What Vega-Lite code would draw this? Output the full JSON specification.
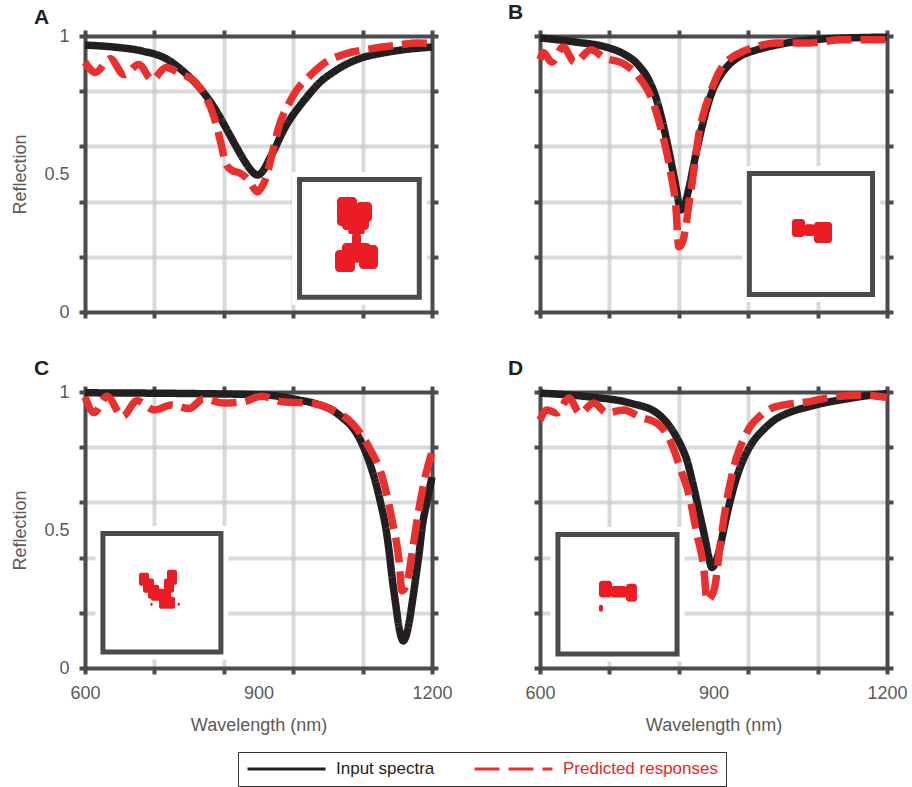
{
  "$schema": "https://vega.github.io/schema/vega-lite/v6.json",
  "padding": {"left": 11, "top": 2, "right": 5, "bottom": 0},
  "bounds": "flush",
  "columns": 2,
  "spacing": {"row": 80, "column": 108},
  "datasets": {
    "curves": [
      {"p":"A","s":"Input spectra","w":600,"r":0.967},{"p":"A","s":"Input spectra","w":650,"r":0.960},{"p":"A","s":"Input spectra","w":700,"r":0.945},{"p":"A","s":"Input spectra","w":740,"r":0.918},{"p":"A","s":"Input spectra","w":770,"r":0.872},{"p":"A","s":"Input spectra","w":800,"r":0.808},{"p":"A","s":"Input spectra","w":826,"r":0.732},{"p":"A","s":"Input spectra","w":845,"r":0.662},{"p":"A","s":"Input spectra","w":862,"r":0.597},{"p":"A","s":"Input spectra","w":878,"r":0.540},{"p":"A","s":"Input spectra","w":890,"r":0.507},{"p":"A","s":"Input spectra","w":898,"r":0.496},{"p":"A","s":"Input spectra","w":908,"r":0.512},{"p":"A","s":"Input spectra","w":918,"r":0.551},{"p":"A","s":"Input spectra","w":930,"r":0.600},{"p":"A","s":"Input spectra","w":941,"r":0.649},{"p":"A","s":"Input spectra","w":955,"r":0.700},{"p":"A","s":"Input spectra","w":970,"r":0.743},{"p":"A","s":"Input spectra","w":990,"r":0.795},{"p":"A","s":"Input spectra","w":1005,"r":0.830},{"p":"A","s":"Input spectra","w":1030,"r":0.870},{"p":"A","s":"Input spectra","w":1056,"r":0.902},{"p":"A","s":"Input spectra","w":1085,"r":0.925},{"p":"A","s":"Input spectra","w":1114,"r":0.938},{"p":"A","s":"Input spectra","w":1150,"r":0.950},{"p":"A","s":"Input spectra","w":1200,"r":0.960},
      {"p":"A","s":"Predicted responses","w":600,"r":0.905},{"p":"A","s":"Predicted responses","w":618,"r":0.868},{"p":"A","s":"Predicted responses","w":644,"r":0.918},{"p":"A","s":"Predicted responses","w":667,"r":0.860},{"p":"A","s":"Predicted responses","w":693,"r":0.897},{"p":"A","s":"Predicted responses","w":716,"r":0.842},{"p":"A","s":"Predicted responses","w":740,"r":0.886},{"p":"A","s":"Predicted responses","w":763,"r":0.866},{"p":"A","s":"Predicted responses","w":792,"r":0.830},{"p":"A","s":"Predicted responses","w":809,"r":0.779},{"p":"A","s":"Predicted responses","w":823,"r":0.707},{"p":"A","s":"Predicted responses","w":835,"r":0.612},{"p":"A","s":"Predicted responses","w":844,"r":0.535},{"p":"A","s":"Predicted responses","w":855,"r":0.512},{"p":"A","s":"Predicted responses","w":866,"r":0.505},{"p":"A","s":"Predicted responses","w":876,"r":0.492},{"p":"A","s":"Predicted responses","w":884,"r":0.474},{"p":"A","s":"Predicted responses","w":892,"r":0.448},{"p":"A","s":"Predicted responses","w":898,"r":0.435},{"p":"A","s":"Predicted responses","w":905,"r":0.450},{"p":"A","s":"Predicted responses","w":913,"r":0.487},{"p":"A","s":"Predicted responses","w":924,"r":0.576},{"p":"A","s":"Predicted responses","w":935,"r":0.670},{"p":"A","s":"Predicted responses","w":953,"r":0.757},{"p":"A","s":"Predicted responses","w":970,"r":0.815},{"p":"A","s":"Predicted responses","w":982,"r":0.841},{"p":"A","s":"Predicted responses","w":1000,"r":0.878},{"p":"A","s":"Predicted responses","w":1017,"r":0.906},{"p":"A","s":"Predicted responses","w":1040,"r":0.928},{"p":"A","s":"Predicted responses","w":1062,"r":0.942},{"p":"A","s":"Predicted responses","w":1090,"r":0.952},{"p":"A","s":"Predicted responses","w":1114,"r":0.960},{"p":"A","s":"Predicted responses","w":1145,"r":0.968},{"p":"A","s":"Predicted responses","w":1172,"r":0.975},{"p":"A","s":"Predicted responses","w":1200,"r":0.972},
      {"p":"B","s":"Input spectra","w":600,"r":0.993},{"p":"B","s":"Input spectra","w":662,"r":0.978},{"p":"B","s":"Input spectra","w":719,"r":0.957},{"p":"B","s":"Input spectra","w":745,"r":0.935},{"p":"B","s":"Input spectra","w":770,"r":0.895},{"p":"B","s":"Input spectra","w":788,"r":0.841},{"p":"B","s":"Input spectra","w":800,"r":0.780},{"p":"B","s":"Input spectra","w":810,"r":0.705},{"p":"B","s":"Input spectra","w":820,"r":0.612},{"p":"B","s":"Input spectra","w":828,"r":0.530},{"p":"B","s":"Input spectra","w":835,"r":0.453},{"p":"B","s":"Input spectra","w":840,"r":0.395},{"p":"B","s":"Input spectra","w":844,"r":0.370},{"p":"B","s":"Input spectra","w":849,"r":0.385},{"p":"B","s":"Input spectra","w":858,"r":0.453},{"p":"B","s":"Input spectra","w":865,"r":0.525},{"p":"B","s":"Input spectra","w":871,"r":0.587},{"p":"B","s":"Input spectra","w":880,"r":0.670},{"p":"B","s":"Input spectra","w":889,"r":0.743},{"p":"B","s":"Input spectra","w":898,"r":0.800},{"p":"B","s":"Input spectra","w":910,"r":0.851},{"p":"B","s":"Input spectra","w":925,"r":0.892},{"p":"B","s":"Input spectra","w":944,"r":0.924},{"p":"B","s":"Input spectra","w":975,"r":0.950},{"p":"B","s":"Input spectra","w":1008,"r":0.967},{"p":"B","s":"Input spectra","w":1050,"r":0.982},{"p":"B","s":"Input spectra","w":1095,"r":0.990},{"p":"B","s":"Input spectra","w":1150,"r":0.994},{"p":"B","s":"Input spectra","w":1200,"r":0.996},
      {"p":"B","s":"Predicted responses","w":600,"r":0.915},{"p":"B","s":"Predicted responses","w":606,"r":0.940},{"p":"B","s":"Predicted responses","w":620,"r":0.905},{"p":"B","s":"Predicted responses","w":640,"r":0.960},{"p":"B","s":"Predicted responses","w":660,"r":0.905},{"p":"B","s":"Predicted responses","w":688,"r":0.950},{"p":"B","s":"Predicted responses","w":712,"r":0.920},{"p":"B","s":"Predicted responses","w":742,"r":0.902},{"p":"B","s":"Predicted responses","w":771,"r":0.851},{"p":"B","s":"Predicted responses","w":794,"r":0.768},{"p":"B","s":"Predicted responses","w":811,"r":0.649},{"p":"B","s":"Predicted responses","w":826,"r":0.504},{"p":"B","s":"Predicted responses","w":835,"r":0.380},{"p":"B","s":"Predicted responses","w":840,"r":0.236},{"p":"B","s":"Predicted responses","w":846,"r":0.250},{"p":"B","s":"Predicted responses","w":852,"r":0.308},{"p":"B","s":"Predicted responses","w":858,"r":0.400},{"p":"B","s":"Predicted responses","w":863,"r":0.467},{"p":"B","s":"Predicted responses","w":869,"r":0.560},{"p":"B","s":"Predicted responses","w":875,"r":0.649},{"p":"B","s":"Predicted responses","w":883,"r":0.720},{"p":"B","s":"Predicted responses","w":892,"r":0.779},{"p":"B","s":"Predicted responses","w":903,"r":0.840},{"p":"B","s":"Predicted responses","w":915,"r":0.888},{"p":"B","s":"Predicted responses","w":930,"r":0.920},{"p":"B","s":"Predicted responses","w":949,"r":0.942},{"p":"B","s":"Predicted responses","w":975,"r":0.962},{"p":"B","s":"Predicted responses","w":1008,"r":0.975},{"p":"B","s":"Predicted responses","w":1065,"r":0.975},{"p":"B","s":"Predicted responses","w":1122,"r":0.986},{"p":"B","s":"Predicted responses","w":1200,"r":0.986},
      {"p":"C","s":"Input spectra","w":600,"r":0.997},{"p":"C","s":"Input spectra","w":700,"r":0.996},{"p":"C","s":"Input spectra","w":797,"r":0.994},{"p":"C","s":"Input spectra","w":913,"r":0.989},{"p":"C","s":"Input spectra","w":970,"r":0.971},{"p":"C","s":"Input spectra","w":1000,"r":0.957},{"p":"C","s":"Input spectra","w":1027,"r":0.935},{"p":"C","s":"Input spectra","w":1046,"r":0.905},{"p":"C","s":"Input spectra","w":1062,"r":0.873},{"p":"C","s":"Input spectra","w":1075,"r":0.830},{"p":"C","s":"Input spectra","w":1086,"r":0.778},{"p":"C","s":"Input spectra","w":1095,"r":0.725},{"p":"C","s":"Input spectra","w":1103,"r":0.669},{"p":"C","s":"Input spectra","w":1112,"r":0.590},{"p":"C","s":"Input spectra","w":1120,"r":0.509},{"p":"C","s":"Input spectra","w":1126,"r":0.420},{"p":"C","s":"Input spectra","w":1131,"r":0.328},{"p":"C","s":"Input spectra","w":1137,"r":0.235},{"p":"C","s":"Input spectra","w":1143,"r":0.147},{"p":"C","s":"Input spectra","w":1147,"r":0.110},{"p":"C","s":"Input spectra","w":1150,"r":0.098},{"p":"C","s":"Input spectra","w":1155,"r":0.115},{"p":"C","s":"Input spectra","w":1160,"r":0.160},{"p":"C","s":"Input spectra","w":1166,"r":0.240},{"p":"C","s":"Input spectra","w":1172,"r":0.328},{"p":"C","s":"Input spectra","w":1178,"r":0.420},{"p":"C","s":"Input spectra","w":1183,"r":0.510},{"p":"C","s":"Input spectra","w":1191,"r":0.600},{"p":"C","s":"Input spectra","w":1200,"r":0.692},
      {"p":"C","s":"Predicted responses","w":600,"r":0.982},{"p":"C","s":"Predicted responses","w":616,"r":0.925},{"p":"C","s":"Predicted responses","w":638,"r":0.985},{"p":"C","s":"Predicted responses","w":665,"r":0.912},{"p":"C","s":"Predicted responses","w":690,"r":0.968},{"p":"C","s":"Predicted responses","w":720,"r":0.935},{"p":"C","s":"Predicted responses","w":750,"r":0.953},{"p":"C","s":"Predicted responses","w":780,"r":0.940},{"p":"C","s":"Predicted responses","w":805,"r":0.975},{"p":"C","s":"Predicted responses","w":840,"r":0.960},{"p":"C","s":"Predicted responses","w":875,"r":0.965},{"p":"C","s":"Predicted responses","w":905,"r":0.985},{"p":"C","s":"Predicted responses","w":940,"r":0.965},{"p":"C","s":"Predicted responses","w":995,"r":0.958},{"p":"C","s":"Predicted responses","w":1027,"r":0.935},{"p":"C","s":"Predicted responses","w":1062,"r":0.887},{"p":"C","s":"Predicted responses","w":1091,"r":0.800},{"p":"C","s":"Predicted responses","w":1114,"r":0.692},{"p":"C","s":"Predicted responses","w":1131,"r":0.535},{"p":"C","s":"Predicted responses","w":1143,"r":0.389},{"p":"C","s":"Predicted responses","w":1148,"r":0.280},{"p":"C","s":"Predicted responses","w":1153,"r":0.290},{"p":"C","s":"Predicted responses","w":1160,"r":0.342},{"p":"C","s":"Predicted responses","w":1168,"r":0.450},{"p":"C","s":"Predicted responses","w":1177,"r":0.571},{"p":"C","s":"Predicted responses","w":1191,"r":0.716},{"p":"C","s":"Predicted responses","w":1200,"r":0.782},
      {"p":"D","s":"Input spectra","w":600,"r":0.996},{"p":"D","s":"Input spectra","w":687,"r":0.982},{"p":"D","s":"Input spectra","w":756,"r":0.960},{"p":"D","s":"Input spectra","w":802,"r":0.924},{"p":"D","s":"Input spectra","w":832,"r":0.851},{"p":"D","s":"Input spectra","w":845,"r":0.800},{"p":"D","s":"Input spectra","w":854,"r":0.753},{"p":"D","s":"Input spectra","w":863,"r":0.680},{"p":"D","s":"Input spectra","w":871,"r":0.607},{"p":"D","s":"Input spectra","w":878,"r":0.540},{"p":"D","s":"Input spectra","w":885,"r":0.473},{"p":"D","s":"Input spectra","w":891,"r":0.410},{"p":"D","s":"Input spectra","w":897,"r":0.364},{"p":"D","s":"Input spectra","w":904,"r":0.385},{"p":"D","s":"Input spectra","w":911,"r":0.436},{"p":"D","s":"Input spectra","w":920,"r":0.525},{"p":"D","s":"Input spectra","w":929,"r":0.607},{"p":"D","s":"Input spectra","w":937,"r":0.670},{"p":"D","s":"Input spectra","w":946,"r":0.727},{"p":"D","s":"Input spectra","w":957,"r":0.780},{"p":"D","s":"Input spectra","w":970,"r":0.825},{"p":"D","s":"Input spectra","w":987,"r":0.865},{"p":"D","s":"Input spectra","w":1005,"r":0.898},{"p":"D","s":"Input spectra","w":1030,"r":0.925},{"p":"D","s":"Input spectra","w":1062,"r":0.945},{"p":"D","s":"Input spectra","w":1090,"r":0.960},{"p":"D","s":"Input spectra","w":1119,"r":0.971},{"p":"D","s":"Input spectra","w":1160,"r":0.985},{"p":"D","s":"Input spectra","w":1200,"r":0.994},
      {"p":"D","s":"Predicted responses","w":600,"r":0.898},{"p":"D","s":"Predicted responses","w":612,"r":0.935},{"p":"D","s":"Predicted responses","w":629,"r":0.924},{"p":"D","s":"Predicted responses","w":650,"r":0.978},{"p":"D","s":"Predicted responses","w":669,"r":0.924},{"p":"D","s":"Predicted responses","w":693,"r":0.960},{"p":"D","s":"Predicted responses","w":716,"r":0.924},{"p":"D","s":"Predicted responses","w":745,"r":0.935},{"p":"D","s":"Predicted responses","w":773,"r":0.909},{"p":"D","s":"Predicted responses","w":802,"r":0.887},{"p":"D","s":"Predicted responses","w":825,"r":0.825},{"p":"D","s":"Predicted responses","w":842,"r":0.727},{"p":"D","s":"Predicted responses","w":860,"r":0.607},{"p":"D","s":"Predicted responses","w":871,"r":0.487},{"p":"D","s":"Predicted responses","w":883,"r":0.364},{"p":"D","s":"Predicted responses","w":889,"r":0.244},{"p":"D","s":"Predicted responses","w":895,"r":0.255},{"p":"D","s":"Predicted responses","w":902,"r":0.291},{"p":"D","s":"Predicted responses","w":911,"r":0.436},{"p":"D","s":"Predicted responses","w":923,"r":0.607},{"p":"D","s":"Predicted responses","w":931,"r":0.690},{"p":"D","s":"Predicted responses","w":940,"r":0.764},{"p":"D","s":"Predicted responses","w":950,"r":0.820},{"p":"D","s":"Predicted responses","w":963,"r":0.873},{"p":"D","s":"Predicted responses","w":982,"r":0.915},{"p":"D","s":"Predicted responses","w":1005,"r":0.945},{"p":"D","s":"Predicted responses","w":1062,"r":0.964},{"p":"D","s":"Predicted responses","w":1119,"r":0.985},{"p":"D","s":"Predicted responses","w":1160,"r":0.988},{"p":"D","s":"Predicted responses","w":1200,"r":0.980}
    ],
    "insets": [
      {"p":"A","x1":971,"x2":1178,"y1":0.053,"y2":0.480},
      {"p":"B","x1":962,"x2":1175,"y1":0.063,"y2":0.502},
      {"p":"C","x1":631,"x2":835,"y1":0.058,"y2":0.487},
      {"p":"D","x1":631,"x2":837,"y1":0.051,"y2":0.484}
    ],
    "shapes": [
      {"p":"A","x1":1035.7,"x2":1070.3,"y1":0.312,"y2":0.417},
      {"p":"A","x1":1068.6,"x2":1096.3,"y1":0.326,"y2":0.399},
      {"p":"A","x1":1044.4,"x2":1091.1,"y1":0.297,"y2":0.351},
      {"p":"A","x1":1054.8,"x2":1084.1,"y1":0.283,"y2":0.300},
      {"p":"A","x1":1061.7,"x2":1077.2,"y1":0.236,"y2":0.290},
      {"p":"A","x1":1032.3,"x2":1066.9,"y1":0.145,"y2":0.225},
      {"p":"A","x1":1073.8,"x2":1106.6,"y1":0.156,"y2":0.243},
      {"p":"A","x1":1044.4,"x2":1094.5,"y1":0.178,"y2":0.250},
      {"p":"B","x1":1035.7,"x2":1058.2,"y1":0.272,"y2":0.337},
      {"p":"B","x1":1056.0,"x2":1076.0,"y1":0.275,"y2":0.318},
      {"p":"B","x1":1073.8,"x2":1104.9,"y1":0.250,"y2":0.326},
      {"p":"C","x1":693.4,"x2":710.7,"y1":0.298,"y2":0.345},
      {"p":"C","x1":700.3,"x2":719.3,"y1":0.273,"y2":0.324},
      {"p":"C","x1":708.9,"x2":728.0,"y1":0.251,"y2":0.302},
      {"p":"C","x1":741.8,"x2":759.1,"y1":0.302,"y2":0.356},
      {"p":"C","x1":736.6,"x2":753.9,"y1":0.273,"y2":0.324},
      {"p":"C","x1":714.1,"x2":748.7,"y1":0.244,"y2":0.287},
      {"p":"C","x1":728.0,"x2":755.6,"y1":0.215,"y2":0.258},
      {"p":"C","x1":713.0,"x2":717.0,"y1":0.225,"y2":0.236},
      {"p":"C","x1":760.0,"x2":764.0,"y1":0.225,"y2":0.236},
      {"p":"D","x1":702.0,"x2":724.5,"y1":0.255,"y2":0.316},
      {"p":"D","x1":722.0,"x2":750.4,"y1":0.255,"y2":0.297},
      {"p":"D","x1":748.7,"x2":767.7,"y1":0.240,"y2":0.305},
      {"p":"D","x1":702.0,"x2":708.9,"y1":0.204,"y2":0.229}
    ]
  },
  "concat": [
    {
      "width": 347, "height": 276,
      "title": {"text": "A", "dx": -51},
      "layer": [
        {"data": {"name": "curves"}, "transform": [{"filter": "datum.p == 'A'"}],
         "mark": {"type": "line", "interpolate": "monotone", "strokeWidth": 7.5, "strokeCap": "butt"},
         "encoding": {
           "x": {"field": "w", "type": "quantitative", "scale": {"domain": [600, 1200], "nice": false},
                 "axis": {"orient": "bottom", "values": [600,720,840,900,960,1080,1200], "labels": false, "title": null, "grid": true,
                          "tickOpacity": {"condition": {"test": "datum.value == 900", "value": 0}, "value": 1},
                          "gridOpacity": {"condition": {"test": "datum.value == 900 || datum.value == 600 || datum.value == 1200", "value": 0}, "value": 0.7}}},
           "y": {"field": "r", "type": "quantitative", "scale": {"domain": [0, 1], "nice": false},
                 "axis": {"orient": "left", "values": [0,0.2,0.4,0.5,0.6,0.8,1], "title": "Reflection", "grid": true,
                          "labelExpr": "datum.value == 0 ? '0' : datum.value == 0.5 ? '0.5' : datum.value == 1 ? '1' : ''",
                          "tickOpacity": {"condition": {"test": "datum.value == 0.5", "value": 0}, "value": 1},
                          "gridOpacity": {"condition": {"test": "datum.value == 0.5 || datum.value == 0 || datum.value == 1", "value": 0}, "value": 0.7}}},
           "color": {"field": "s", "type": "nominal", "scale": {"domain": ["Input spectra", "Predicted responses"], "range": ["#231f20", "#e8302f"]},
                     "legend": {"title": null, "encode": {"labels": {"update": {"fill": {"signal": "datum.label == 'Predicted responses' ? '#e8262a' : '#231f20'"}}}}}},
           "strokeDash": {"field": "s", "type": "nominal", "scale": {"domain": ["Input spectra", "Predicted responses"], "range": [[1, 0], [25, 9]]},
                     "legend": {"title": null, "encode": {"labels": {"update": {"fill": {"signal": "datum.label == 'Predicted responses' ? '#e8262a' : '#231f20'"}}}}}}
         }},
        {"data": {"name": "insets"}, "transform": [{"filter": "datum.p == 'A'"}],
         "mark": {"type": "rect", "fill": "white", "stroke": "white", "strokeWidth": 15},
         "encoding": {
           "x": {"field": "x1", "type": "quantitative", "axis": {"orient": "top", "values": [600,720,840,960,1080,1200], "labels": false, "title": null, "grid": false}},
           "x2": {"field": "x2"},
           "y": {"field": "y1", "type": "quantitative", "axis": {"orient": "right", "values": [0,0.2,0.4,0.6,0.8,1], "labels": false, "title": null, "grid": false}},
           "y2": {"field": "y2"}
         }},
        {"data": {"name": "insets"}, "transform": [{"filter": "datum.p == 'A'"}],
         "mark": {"type": "rect", "fill": "white", "stroke": "#4b4b4d", "strokeWidth": 5},
         "encoding": {"x": {"field": "x1", "type": "quantitative", "axis": null}, "x2": {"field": "x2"}, "y": {"field": "y1", "type": "quantitative", "axis": null}, "y2": {"field": "y2"}}},
        {"data": {"name": "shapes"}, "transform": [{"filter": "datum.p == 'A'"}],
         "mark": {"type": "rect", "fill": "#ec1c24", "cornerRadius": 4},
         "encoding": {"x": {"field": "x1", "type": "quantitative", "axis": null}, "x2": {"field": "x2"}, "y": {"field": "y1", "type": "quantitative", "axis": null}, "y2": {"field": "y2"}}}
      ]
    },
    {
      "width": 347, "height": 276,
      "title": {"text": "B", "dx": -32},
      "layer": [
        {"data": {"name": "curves"}, "transform": [{"filter": "datum.p == 'B'"}],
         "mark": {"type": "line", "interpolate": "monotone", "strokeWidth": 7.5, "strokeCap": "butt"},
         "encoding": {
           "x": {"field": "w", "type": "quantitative", "scale": {"domain": [600, 1200], "nice": false},
                 "axis": {"orient": "bottom", "values": [600,720,840,900,960,1080,1200], "labels": false, "title": null, "grid": true,
                          "tickOpacity": {"condition": {"test": "datum.value == 900", "value": 0}, "value": 1},
                          "gridOpacity": {"condition": {"test": "datum.value == 900 || datum.value == 600 || datum.value == 1200", "value": 0}, "value": 0.7}}},
           "y": {"field": "r", "type": "quantitative", "scale": {"domain": [0, 1], "nice": false},
                 "axis": {"orient": "left", "values": [0,0.2,0.4,0.5,0.6,0.8,1], "title": null, "labels": false, "grid": true,
                          "tickOpacity": {"condition": {"test": "datum.value == 0.5", "value": 0}, "value": 1},
                          "gridOpacity": {"condition": {"test": "datum.value == 0.5 || datum.value == 0 || datum.value == 1", "value": 0}, "value": 0.7}}},
           "color": {"field": "s", "type": "nominal", "scale": {"domain": ["Input spectra", "Predicted responses"], "range": ["#231f20", "#e8302f"]},
                     "legend": {"title": null, "encode": {"labels": {"update": {"fill": {"signal": "datum.label == 'Predicted responses' ? '#e8262a' : '#231f20'"}}}}}},
           "strokeDash": {"field": "s", "type": "nominal", "scale": {"domain": ["Input spectra", "Predicted responses"], "range": [[1, 0], [25, 9]]},
                     "legend": {"title": null, "encode": {"labels": {"update": {"fill": {"signal": "datum.label == 'Predicted responses' ? '#e8262a' : '#231f20'"}}}}}}
         }},
        {"data": {"name": "insets"}, "transform": [{"filter": "datum.p == 'B'"}],
         "mark": {"type": "rect", "fill": "white", "stroke": "white", "strokeWidth": 15},
         "encoding": {
           "x": {"field": "x1", "type": "quantitative", "axis": {"orient": "top", "values": [600,720,840,960,1080,1200], "labels": false, "title": null, "grid": false}},
           "x2": {"field": "x2"},
           "y": {"field": "y1", "type": "quantitative", "axis": {"orient": "right", "values": [0,0.2,0.4,0.6,0.8,1], "labels": false, "title": null, "grid": false}},
           "y2": {"field": "y2"}
         }},
        {"data": {"name": "insets"}, "transform": [{"filter": "datum.p == 'B'"}],
         "mark": {"type": "rect", "fill": "white", "stroke": "#4b4b4d", "strokeWidth": 5},
         "encoding": {"x": {"field": "x1", "type": "quantitative", "axis": null}, "x2": {"field": "x2"}, "y": {"field": "y1", "type": "quantitative", "axis": null}, "y2": {"field": "y2"}}},
        {"data": {"name": "shapes"}, "transform": [{"filter": "datum.p == 'B'"}],
         "mark": {"type": "rect", "fill": "#ec1c24", "cornerRadius": 3},
         "encoding": {"x": {"field": "x1", "type": "quantitative", "axis": null}, "x2": {"field": "x2"}, "y": {"field": "y1", "type": "quantitative", "axis": null}, "y2": {"field": "y2"}}}
      ]
    },
    {
      "width": 347, "height": 276,
      "title": {"text": "C", "dx": -51},
      "layer": [
        {"data": {"name": "curves"}, "transform": [{"filter": "datum.p == 'C'"}],
         "mark": {"type": "line", "interpolate": "monotone", "strokeWidth": 7.5, "strokeCap": "butt"},
         "encoding": {
           "x": {"field": "w", "type": "quantitative", "scale": {"domain": [600, 1200], "nice": false},
                 "axis": {"orient": "bottom", "values": [600,720,840,900,960,1080,1200], "format": "d", "title": "Wavelength (nm)", "grid": true,
                          "labelExpr": "datum.value == 600 || datum.value == 900 || datum.value == 1200 ? datum.label : ''",
                          "tickOpacity": {"condition": {"test": "datum.value == 900", "value": 0}, "value": 1},
                          "gridOpacity": {"condition": {"test": "datum.value == 900 || datum.value == 600 || datum.value == 1200", "value": 0}, "value": 0.7}}},
           "y": {"field": "r", "type": "quantitative", "scale": {"domain": [0, 1], "nice": false},
                 "axis": {"orient": "left", "values": [0,0.2,0.4,0.5,0.6,0.8,1], "title": "Reflection", "grid": true,
                          "labelExpr": "datum.value == 0 ? '0' : datum.value == 0.5 ? '0.5' : datum.value == 1 ? '1' : ''",
                          "tickOpacity": {"condition": {"test": "datum.value == 0.5", "value": 0}, "value": 1},
                          "gridOpacity": {"condition": {"test": "datum.value == 0.5 || datum.value == 0 || datum.value == 1", "value": 0}, "value": 0.7}}},
           "color": {"field": "s", "type": "nominal", "scale": {"domain": ["Input spectra", "Predicted responses"], "range": ["#231f20", "#e8302f"]},
                     "legend": {"title": null, "encode": {"labels": {"update": {"fill": {"signal": "datum.label == 'Predicted responses' ? '#e8262a' : '#231f20'"}}}}}},
           "strokeDash": {"field": "s", "type": "nominal", "scale": {"domain": ["Input spectra", "Predicted responses"], "range": [[1, 0], [25, 9]]},
                     "legend": {"title": null, "encode": {"labels": {"update": {"fill": {"signal": "datum.label == 'Predicted responses' ? '#e8262a' : '#231f20'"}}}}}}
         }},
        {"data": {"name": "insets"}, "transform": [{"filter": "datum.p == 'C'"}],
         "mark": {"type": "rect", "fill": "white", "stroke": "white", "strokeWidth": 15},
         "encoding": {
           "x": {"field": "x1", "type": "quantitative", "axis": {"orient": "top", "values": [600,720,840,960,1080,1200], "labels": false, "title": null, "grid": false}},
           "x2": {"field": "x2"},
           "y": {"field": "y1", "type": "quantitative", "axis": {"orient": "right", "values": [0,0.2,0.4,0.6,0.8,1], "labels": false, "title": null, "grid": false}},
           "y2": {"field": "y2"}
         }},
        {"data": {"name": "insets"}, "transform": [{"filter": "datum.p == 'C'"}],
         "mark": {"type": "rect", "fill": "white", "stroke": "#4b4b4d", "strokeWidth": 5},
         "encoding": {"x": {"field": "x1", "type": "quantitative", "axis": null}, "x2": {"field": "x2"}, "y": {"field": "y1", "type": "quantitative", "axis": null}, "y2": {"field": "y2"}}},
        {"data": {"name": "shapes"}, "transform": [{"filter": "datum.p == 'C'"}],
         "mark": {"type": "rect", "fill": "#ec1c24", "cornerRadius": 2},
         "encoding": {"x": {"field": "x1", "type": "quantitative", "axis": null}, "x2": {"field": "x2"}, "y": {"field": "y1", "type": "quantitative", "axis": null}, "y2": {"field": "y2"}}}
      ]
    },
    {
      "width": 347, "height": 276,
      "title": {"text": "D", "dx": -32},
      "layer": [
        {"data": {"name": "curves"}, "transform": [{"filter": "datum.p == 'D'"}],
         "mark": {"type": "line", "interpolate": "monotone", "strokeWidth": 7.5, "strokeCap": "butt"},
         "encoding": {
           "x": {"field": "w", "type": "quantitative", "scale": {"domain": [600, 1200], "nice": false},
                 "axis": {"orient": "bottom", "values": [600,720,840,900,960,1080,1200], "format": "d", "title": "Wavelength (nm)", "grid": true,
                          "labelExpr": "datum.value == 600 || datum.value == 900 || datum.value == 1200 ? datum.label : ''",
                          "tickOpacity": {"condition": {"test": "datum.value == 900", "value": 0}, "value": 1},
                          "gridOpacity": {"condition": {"test": "datum.value == 900 || datum.value == 600 || datum.value == 1200", "value": 0}, "value": 0.7}}},
           "y": {"field": "r", "type": "quantitative", "scale": {"domain": [0, 1], "nice": false},
                 "axis": {"orient": "left", "values": [0,0.2,0.4,0.5,0.6,0.8,1], "title": null, "labels": false, "grid": true,
                          "tickOpacity": {"condition": {"test": "datum.value == 0.5", "value": 0}, "value": 1},
                          "gridOpacity": {"condition": {"test": "datum.value == 0.5 || datum.value == 0 || datum.value == 1", "value": 0}, "value": 0.7}}},
           "color": {"field": "s", "type": "nominal", "scale": {"domain": ["Input spectra", "Predicted responses"], "range": ["#231f20", "#e8302f"]},
                     "legend": {"title": null, "encode": {"labels": {"update": {"fill": {"signal": "datum.label == 'Predicted responses' ? '#e8262a' : '#231f20'"}}}}}},
           "strokeDash": {"field": "s", "type": "nominal", "scale": {"domain": ["Input spectra", "Predicted responses"], "range": [[1, 0], [25, 9]]},
                     "legend": {"title": null, "encode": {"labels": {"update": {"fill": {"signal": "datum.label == 'Predicted responses' ? '#e8262a' : '#231f20'"}}}}}}
         }},
        {"data": {"name": "insets"}, "transform": [{"filter": "datum.p == 'D'"}],
         "mark": {"type": "rect", "fill": "white", "stroke": "white", "strokeWidth": 15},
         "encoding": {
           "x": {"field": "x1", "type": "quantitative", "axis": {"orient": "top", "values": [600,720,840,960,1080,1200], "labels": false, "title": null, "grid": false}},
           "x2": {"field": "x2"},
           "y": {"field": "y1", "type": "quantitative", "axis": {"orient": "right", "values": [0,0.2,0.4,0.6,0.8,1], "labels": false, "title": null, "grid": false}},
           "y2": {"field": "y2"}
         }},
        {"data": {"name": "insets"}, "transform": [{"filter": "datum.p == 'D'"}],
         "mark": {"type": "rect", "fill": "white", "stroke": "#4b4b4d", "strokeWidth": 5},
         "encoding": {"x": {"field": "x1", "type": "quantitative", "axis": null}, "x2": {"field": "x2"}, "y": {"field": "y1", "type": "quantitative", "axis": null}, "y2": {"field": "y2"}}},
        {"data": {"name": "shapes"}, "transform": [{"filter": "datum.p == 'D'"}],
         "mark": {"type": "rect", "fill": "#ec1c24", "cornerRadius": 3},
         "encoding": {"x": {"field": "x1", "type": "quantitative", "axis": null}, "x2": {"field": "x2"}, "y": {"field": "y1", "type": "quantitative", "axis": null}, "y2": {"field": "y2"}}}
      ]
    }
  ],
  "config": {
    "font": "Liberation Sans",
    "view": {"stroke": null},
    "title": {"font": "Liberation Sans", "fontSize": 21, "fontWeight": "bold", "color": "#231f20", "anchor": "start", "frame": "group", "offset": -1},
    "axis": {
      "domainColor": "#4b4b4d", "domainWidth": 4, "domainCap": "square",
      "tickColor": "#4b4b4d", "tickWidth": 4, "tickSize": 6,
      "labelFont": "Liberation Sans", "labelFontSize": 18, "labelColor": "#5a5a5a", "labelPadding": 10,
      "labelFlush": false, "labelOverlap": false,
      "titleFont": "Liberation Sans", "titleFontSize": 18, "titleColor": "#5a5a5a", "titleFontWeight": "normal", "titlePadding": 14,
      "gridColor": "#c9c9cb", "gridWidth": 4
    },
    "legend": {
      "orient": "none", "legendX": 153, "legendY": 716, "direction": "horizontal",
      "symbolType": "stroke", "symbolSize": 6084, "symbolStrokeWidth": 3,
      "labelFont": "Liberation Sans", "labelFontSize": 17, "labelOffset": 9, "labelLimit": 400,
      "columnPadding": 38, "padding": 8, "strokeColor": "#333333", "fillColor": "white", "clipHeight": 18
    }
  }
}
